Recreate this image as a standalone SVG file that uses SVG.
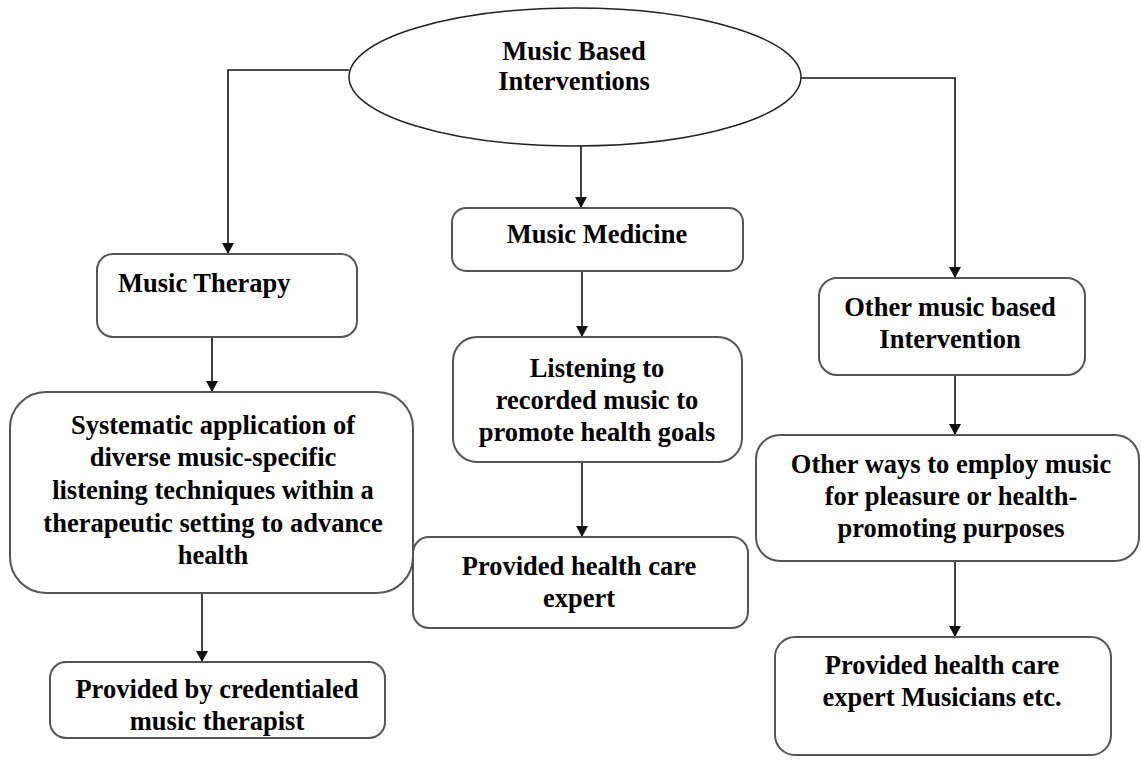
<svg xmlns="http://www.w3.org/2000/svg" width="1141" height="767" viewBox="0 0 1141 767">
  <style>
    .box { fill: #ffffff; stroke: #555555; stroke-width: 2; }
    .lbl { font-family: "Liberation Serif", "Times New Roman", serif; font-weight: bold; font-size: 26.5px; fill: #000000; }
    .mid { text-anchor: middle; }
    .edge { fill: none; stroke: #111111; stroke-width: 1.6; }
  </style>
  <defs>
    <marker id="arrow" viewBox="0 0 11 12" refX="11" refY="6" markerWidth="11" markerHeight="12" markerUnits="userSpaceOnUse" orient="auto">
      <path d="M0,0 L11,6 L0,12 z" fill="#111111"/>
    </marker>
  </defs>
  <rect width="1141" height="767" fill="#ffffff"/>

  <g id="connectors">
    <path class="edge" d="M349,70 H228 V254" marker-end="url(#arrow)"/>
    <path class="edge" d="M581,145 V208" marker-end="url(#arrow)"/>
    <path class="edge" d="M788,78 H955 V278" marker-end="url(#arrow)"/>
    <path class="edge" d="M212,337 V392" marker-end="url(#arrow)"/>
    <path class="edge" d="M202,593 V662" marker-end="url(#arrow)"/>
    <path class="edge" d="M582,271 V337" marker-end="url(#arrow)"/>
    <path class="edge" d="M582,462 V537" marker-end="url(#arrow)"/>
    <path class="edge" d="M955,375 V435" marker-end="url(#arrow)"/>
    <path class="edge" d="M955,561 V637" marker-end="url(#arrow)"/>
  </g>

  <g id="root">
    <ellipse cx="575" cy="77" rx="226" ry="69" fill="#ffffff" stroke="#222222" stroke-width="1.5"/>
    <text class="lbl mid" x="574" y="60">Music Based</text>
    <text class="lbl mid" x="574" y="90">Interventions</text>
  </g>

  <g id="music-therapy">
    <rect class="box" x="97" y="254" width="260" height="83" rx="16"/>
    <text class="lbl" x="118" y="292">Music Therapy</text>
  </g>

  <g id="systematic-application">
    <rect class="box" x="10" y="392" width="403" height="201" rx="36"/>
    <text class="lbl mid" x="213" y="434">Systematic application of</text>
    <text class="lbl mid" x="213" y="466">diverse music-specific</text>
    <text class="lbl mid" x="213" y="499">listening techniques within a</text>
    <text class="lbl mid" x="213" y="532">therapeutic setting to advance</text>
    <text class="lbl mid" x="213" y="564">health</text>
  </g>

  <g id="credentialed-therapist">
    <rect class="box" x="50" y="662" width="335" height="76" rx="16"/>
    <text class="lbl mid" x="217" y="698">Provided by credentialed</text>
    <text class="lbl mid" x="217" y="730">music therapist</text>
  </g>

  <g id="music-medicine">
    <rect class="box" x="452" y="208" width="291" height="63" rx="14"/>
    <text class="lbl mid" x="597" y="243">Music Medicine</text>
  </g>

  <g id="recorded-listening">
    <rect class="box" x="453" y="337" width="289" height="125" rx="24"/>
    <text class="lbl mid" x="597" y="377">Listening to</text>
    <text class="lbl mid" x="597" y="409">recorded music to</text>
    <text class="lbl mid" x="597" y="441">promote health goals</text>
  </g>

  <g id="health-care-expert">
    <rect class="box" x="413" y="537" width="335" height="91" rx="16"/>
    <text class="lbl mid" x="579" y="575">Provided health care</text>
    <text class="lbl mid" x="579" y="607">expert</text>
  </g>

  <g id="other-intervention">
    <rect class="box" x="819" y="278" width="266" height="97" rx="18"/>
    <text class="lbl mid" x="950" y="316">Other music based</text>
    <text class="lbl mid" x="950" y="348">Intervention</text>
  </g>

  <g id="other-ways">
    <rect class="box" x="756" y="435" width="383" height="126" rx="24"/>
    <text class="lbl mid" x="951" y="473">Other ways to employ music</text>
    <text class="lbl mid" x="951" y="505">for pleasure or health-</text>
    <text class="lbl mid" x="951" y="537">promoting purposes</text>
  </g>

  <g id="expert-musicians">
    <rect class="box" x="775" y="637" width="336" height="118" rx="20"/>
    <text class="lbl mid" x="942" y="674">Provided health care</text>
    <text class="lbl mid" x="942" y="706">expert Musicians etc.</text>
  </g>
</svg>
